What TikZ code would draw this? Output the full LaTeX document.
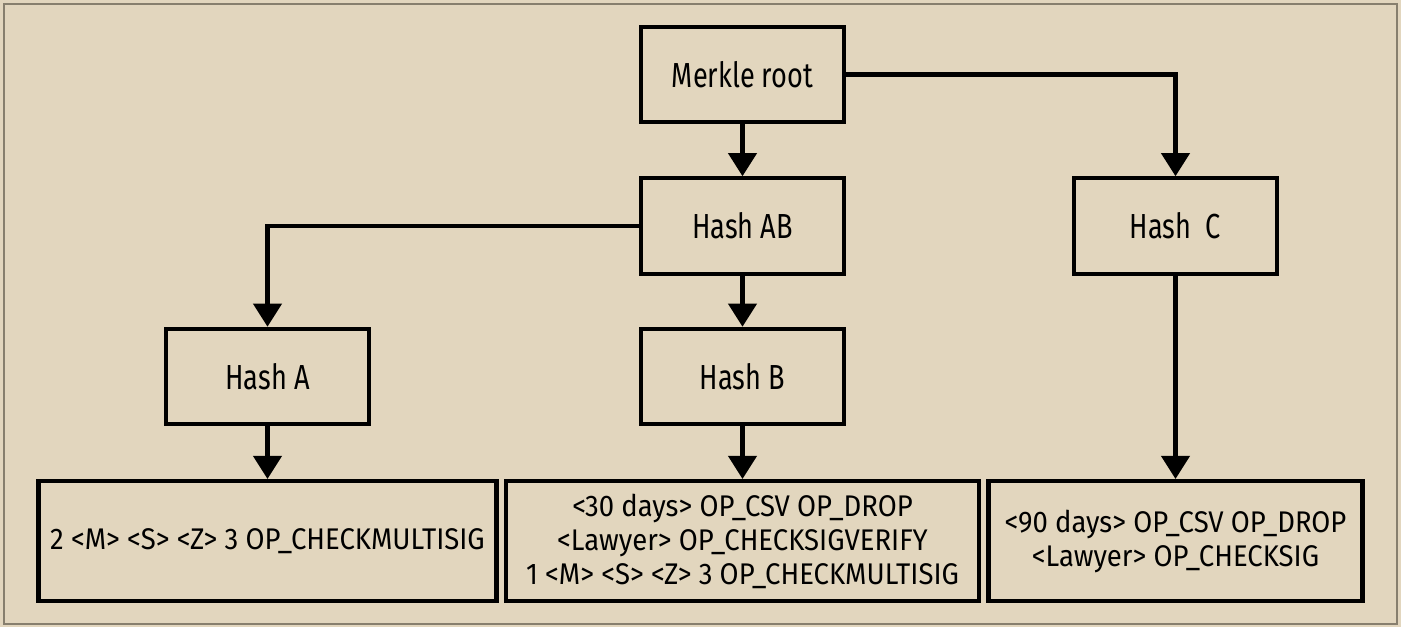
\documentclass[tikz,border=0pt]{standalone}
\usepackage{fontspec}
\setmainfont{Fira Sans}[FakeStretch=0.78]
\newfontfamily\opfont{Fira Sans}[FakeStretch=0.92]
\usetikzlibrary{arrows.meta}
\definecolor{paper}{RGB}{226,214,190}
\definecolor{rim}{RGB}{135,127,110}
\tikzset{
	hashbox/.style={draw, line width=2.3pt, minimum width=4.06cm, minimum height=1.91cm, font=\fontsize{19.8}{24}\selectfont},
	scriptbox/.style={draw, line width=2.3pt, minimum height=2.4cm, align=center, font=\opfont\fontsize{17}{19.35}\selectfont},
	link/.style={line width=2.3pt, -{Triangle[width=5.6mm,length=4.6mm]}}
}
\begin{document}
\begin{tikzpicture}
		\fill [paper](0,0) rectangle (28.02,12.54);
		\draw [rim, line width=1.1pt](0.08,0.06) rectangle (27.94,12.46);
		
		\node [hashbox] (root) at (14.85,11.05) {Merkle root};
		\node [hashbox] (hashab) at (14.85,8.02) {Hash AB};
		\node [hashbox] (hashc) at (23.51,8.02) {Hash\ \ C};
		\node [hashbox] (hasha) at (5.35,5.01) {Hash A};
		\node [hashbox] (hashb) at (14.85,5.01) {Hash B};
		\node [scriptbox, minimum width=9.16cm] (scripta) at (5.35,1.72) {2 <M> <S> <Z> 3 OP\_CHECKMULTISIG};
		\node [scriptbox, minimum width=9.46cm] (scriptb) at (14.85,1.72) {<30 days> OP\_CSV OP\_DROP\\<Lawyer> OP\_CHECKSIGVERIFY\\1 <M> <S> <Z> 3 OP\_CHECKMULTISIG};
		\node [scriptbox, minimum width=7.48cm] (scriptc) at (23.51,1.72) {<90 days> OP\_CSV OP\_DROP\\<Lawyer> OP\_CHECKSIG};
		
		\draw [link](root)--(hashab);
		\draw [link](root.east)-|(hashc);
		\draw [link](hashab.west)-|(hasha);
		\draw [link](hashab)--(hashb);
		\draw [link](hasha)--(scripta);
		\draw [link](hashb)--(scriptb);
		\draw [link](hashc)--(scriptc);
		
		\end{tikzpicture}
\end{document}
